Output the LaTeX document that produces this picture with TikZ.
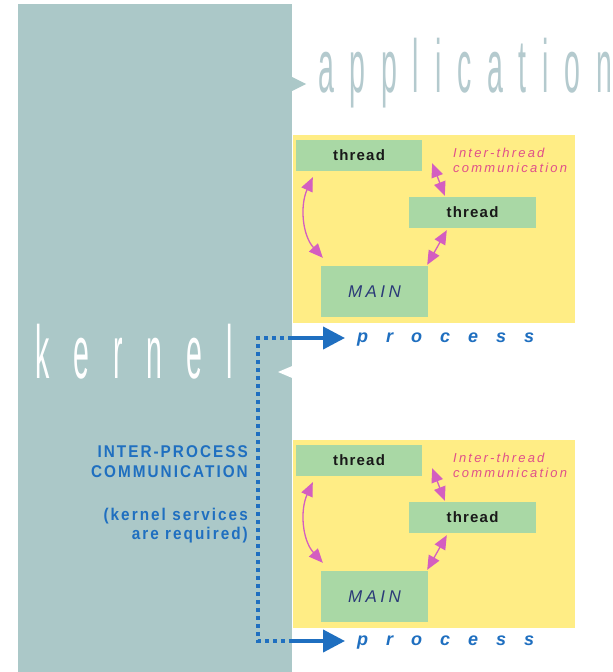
\documentclass[tikz,border=0pt]{standalone}
\usepackage{fontspec}
\usetikzlibrary{arrows.meta}
\setmainfont{Liberation Sans}
\newfontfamily\appfont{Liberation Sans}[FakeStretch=0.38,LetterSpace=21]
\newfontfamily\kernfont{Liberation Sans}[FakeStretch=0.38,LetterSpace=32]
\newfontfamily\thrfont{Liberation Sans}[LetterSpace=8]
\newfontfamily\mainfnt{Liberation Sans}[LetterSpace=20]
\newfontfamily\procfont{Liberation Sans}[LetterSpace=100]
\newfontfamily\itcfont{Liberation Sans}[LetterSpace=17]
\newfontfamily\ipcfont{Liberation Sans}[FakeStretch=0.9,LetterSpace=12]
\definecolor{panelgrey}{HTML}{ABC8C8}
\definecolor{apptext}{HTML}{B4CACE}
\definecolor{yel}{HTML}{FFED85}
\definecolor{grn}{HTML}{A9D8A5}
\definecolor{pinkarr}{HTML}{D45EC0}
\definecolor{pinktxt}{HTML}{E0508A}
\definecolor{blu}{HTML}{1F6FC0}
\definecolor{navy}{HTML}{2B3A78}
\tikzset{
  yellowbox/.style={fill=yel, draw=none, inner sep=0, minimum width=282bp, minimum height=188bp},
  greenbox/.style={fill=grn, draw=none, inner sep=0, text=black!90},
  thrlabel/.style={font=\thrfont\bfseries\fontsize{15bp}{15bp}\selectfont},
  mainlabel/.style={font=\mainfnt\itshape\fontsize{17bp}{17bp}\selectfont, text=navy},
  itclabel/.style={font=\itcfont\itshape\fontsize{13bp}{13bp}\selectfont, text=pinktxt, inner sep=0},
  parrow/.style={draw=pinkarr, line width=1.3bp, {Triangle[length=14bp,width=12bp]}-{Triangle[length=14bp,width=12bp]}},
  proclabel/.style={font=\procfont\bfseries\itshape\fontsize{18bp}{18bp}\selectfont, text=blu, inner sep=0, anchor=base west},
  ipclabel/.style={font=\ipcfont\bfseries\fontsize{17bp}{17bp}\selectfont, text=blu, inner sep=0, anchor=base east},
  dots/.style={draw=blu, line width=3.5bp, dash pattern=on 4bp off 4bp},
  bluearrow/.style={draw=blu, line width=4bp, -{Triangle[length=22bp,width=22bp]}},
  procblock/.pic={
    \node[yellowbox] (-box) at (434,229) {};
    \node[greenbox, minimum width=126bp, minimum height=31bp, thrlabel] (-t1) at (359,155.5) {thread};
    \node[greenbox, minimum width=127bp, minimum height=31bp, thrlabel] (-t2) at (472.5,212.5) {thread};
    \node[greenbox, minimum width=107bp, minimum height=51bp, mainlabel] (-main) at (374.5,291.5) {MAIN};
    \node[itclabel, anchor=base west] (-itc1) at (453,157) {Inter-thread};
    \node[itclabel, anchor=base west] (-itc2) at (453,172) {communication};
    \draw[parrow] ([shift={(17bp,-6bp)}]-t1.south west) .. controls (300,205) and (302,235) .. ([shift={(2bp,8bp)}]-main.north west);
    \draw[parrow] ([shift={(10bp,8bp)}]-t1.south east) -- ([shift={(36bp,1bp)}]-t2.north west);
    \draw[parrow] ([shift={(38bp,-2bp)}]-t2.south west) -- ([shift={(-1bp,1bp)}]-main.north east);
  }
}
\begin{document}
\begin{tikzpicture}[x=1bp, y=-1bp]
  \useasboundingbox (0,0) rectangle (613,672);
  \fill[white] (0,0) rectangle (613,672);
  % left panel
  \node[fill=panelgrey, draw=none, inner sep=0, minimum width=274bp, minimum height=672bp] (panel) at (155,340) {};
  \fill[panelgrey] (panel.east |- 0,77) -- (306,84) -- (panel.east |- 0,91) -- cycle;
  \fill[white] (panel.east |- 0,366) -- (278,372) -- (panel.east |- 0,378) -- cycle;
  % big words
  \node[font=\appfont\fontsize{75bp}{75bp}\selectfont, text=apptext, inner sep=0, anchor=base west] (app) at (318,93) {application};
  \node[font=\kernfont\fontsize{75bp}{75bp}\selectfont, text=white, inner sep=0, anchor=base west] (kern) at (35,378) {kernel};
  % process blocks
  \pic (pA) at (0,0) {procblock};
  \pic (pB) at (0,305) {procblock};
  \node[proclabel] (procA) at (357,342) {process};
  \node[proclabel] (procB) at (357,645) {process};
  % inter-process communication
  \node[ipclabel] (ipc1) at (248,457) {INTER-PROCESS};
  \node[ipclabel] (ipc2) at (248,477) {COMMUNICATION};
  \node[ipclabel] (ipc3) at (248,520) {(kernel services};
  \node[ipclabel] (ipc4) at (248,539) {are required)};
  \coordinate (dA) at (258,338);
  \coordinate (dB) at (258,641);
  \draw[dots] (panel.east |- dA) -- (dA) -- (dB) -- (panel.east |- dB);
  \draw[bluearrow] (panel.east |- dA) -- ([xshift=-12bp]procA.west |- dA);
  \draw[bluearrow] (panel.east |- dB) -- ([xshift=-12bp]procB.west |- dB);
\end{tikzpicture}
\end{document}
